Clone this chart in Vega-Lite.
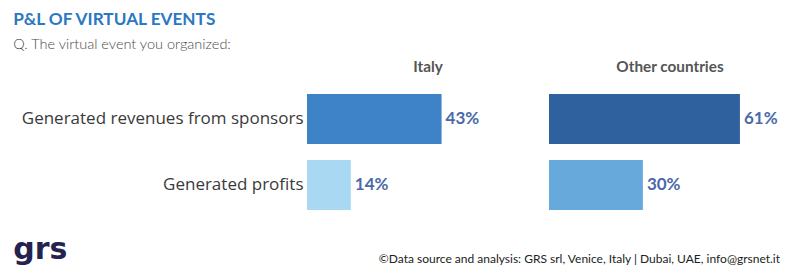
{
  "$schema": "https://vega.github.io/schema/vega-lite/v6.json",
  "background": "white",
  "padding": {"left": 13, "top": 11, "right": 0, "bottom": 0},
  "config": {"view": {"stroke": null}, "font": "Lato"},
  "title": {
    "text": "P&L OF VIRTUAL EVENTS",
    "subtitle": "Q. The virtual event you organized:",
    "anchor": "start",
    "frame": "bounds",
    "font": "Lato",
    "fontSize": 17.2,
    "fontWeight": "bold",
    "color": "#2b78c2",
    "subtitleFont": "Lato",
    "subtitleFontSize": 14.5,
    "subtitleFontWeight": 300,
    "subtitleColor": "#4a4a4a",
    "subtitlePadding": 9,
    "offset": 8
  },
  "data": {
    "values": [
      {"country": "Italy", "category": "Generated revenues from sponsors", "pct": 0.43},
      {"country": "Italy", "category": "Generated profits", "pct": 0.14},
      {"country": "Other countries", "category": "Generated revenues from sponsors", "pct": 0.61},
      {"country": "Other countries", "category": "Generated profits", "pct": 0.30}
    ]
  },
  "bounds": "flush",
  "hconcat": [
    {
      "width": 241,
      "height": {"step": 66},
      "transform": [{"filter": "datum.country === 'Italy'"}],
      "title": {"text": "grs", "orient": "bottom", "anchor": "start", "frame": "bounds", "dx": -8, "offset": 17, "font": "DejaVu Sans", "fontSize": 30, "fontWeight": "bold", "color": "#24224f"},
      "encoding": {
        "y": {
          "field": "category", "type": "nominal",
          "sort": ["Generated revenues from sponsors", "Generated profits"],
          "scale": {"paddingInner": 0.24, "paddingOuter": 0.12},
          "axis": {"title": null, "ticks": false, "domain": false, "labelFont": "Open Sans", "labelFontSize": 17, "labelColor": "#3a3a3a", "labelPadding": 4, "labelLimit": 400}
        },
        "x": {
          "field": "pct", "type": "quantitative", "scale": {"domain": [0, 0.77]},
          "axis": {"orient": "top", "title": "Italy", "labels": false, "ticks": false, "domain": false, "grid": false, "titleFont": "Lato", "titleFontSize": 15.3, "titleFontWeight": "bold", "titleColor": "#555555", "titlePadding": 12}
        }
      },
      "layer": [
        {
          "mark": {"type": "bar"},
          "encoding": {
            "color": {"field": "category", "type": "nominal", "scale": {"domain": ["Generated revenues from sponsors", "Generated profits"], "range": ["#3e82c8", "#a9d8f2"]}, "legend": null}
          }
        },
        {
          "mark": {"type": "text", "align": "left", "baseline": "middle", "dx": 4, "font": "Lato", "fontSize": 17, "fontWeight": "bold", "color": "#4a6aa8"},
          "encoding": {"text": {"field": "pct", "type": "quantitative", "format": ".0%"}}
        }
      ]
    },
    {
      "width": 241,
      "height": {"step": 66},
      "transform": [{"filter": "datum.country === 'Other countries'"}],
      "title": {"text": "©Data source and analysis: GRS srl, Venice, Italy | Dubai, UAE, info@grsnet.it", "orient": "bottom", "anchor": "end", "frame": "group", "dx": -10, "offset": 36, "font": "Lato", "fontSize": 12, "fontWeight": "normal", "color": "#222222"},
      "encoding": {
        "y": {
          "field": "category", "type": "nominal",
          "sort": ["Generated revenues from sponsors", "Generated profits"],
          "scale": {"paddingInner": 0.24, "paddingOuter": 0.12},
          "axis": null
        },
        "x": {
          "field": "pct", "type": "quantitative", "scale": {"domain": [0, 0.77]},
          "axis": {"orient": "top", "title": "Other countries", "labels": false, "ticks": false, "domain": false, "grid": false, "titleFont": "Lato", "titleFontSize": 15.3, "titleFontWeight": "bold", "titleColor": "#555555", "titlePadding": 12}
        }
      },
      "layer": [
        {
          "mark": {"type": "bar"},
          "encoding": {
            "color": {"field": "category", "type": "nominal", "scale": {"domain": ["Generated revenues from sponsors", "Generated profits"], "range": ["#2e619e", "#68a9dc"]}, "legend": null}
          }
        },
        {
          "mark": {"type": "text", "align": "left", "baseline": "middle", "dx": 4, "font": "Lato", "fontSize": 17, "fontWeight": "bold", "color": "#4a6aa8"},
          "encoding": {"text": {"field": "pct", "type": "quantitative", "format": ".0%"}}
        }
      ]
    }
  ],
  "spacing": 1,
  "resolve": {"scale": {"color": "independent", "y": "independent", "x": "independent"}}
}
